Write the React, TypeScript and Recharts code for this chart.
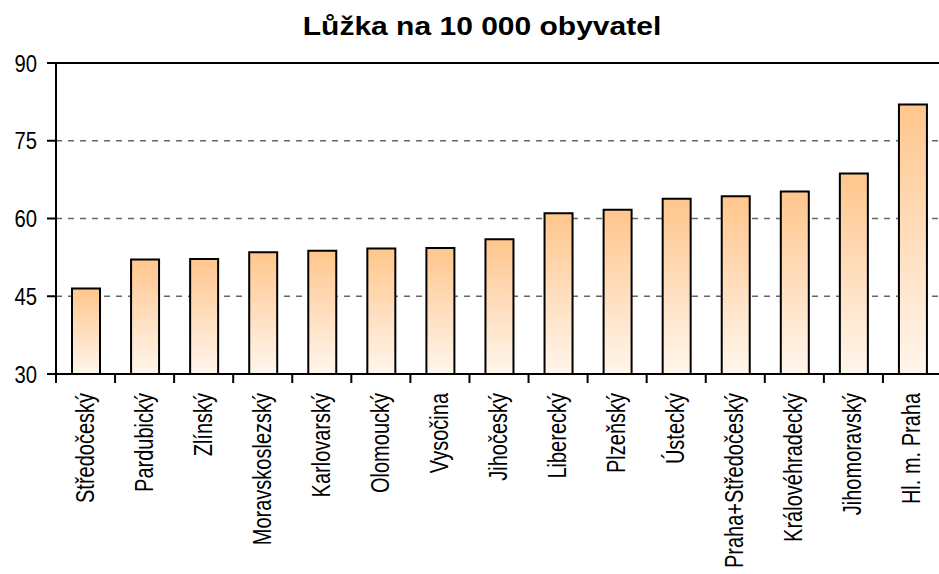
import React from "react";
import { BarChart, Bar, XAxis, YAxis, CartesianGrid, ReferenceLine } from "recharts";

const title = "Lůžka na 10 000 obyvatel";
const regions = [
  "Středočeský",
  "Pardubický",
  "Zlínský",
  "Moravskoslezský",
  "Karlovarský",
  "Olomoucký",
  "Vysočina",
  "Jihočeský",
  "Liberecký",
  "Plzeňský",
  "Ústecký",
  "Praha+Středočeský",
  "Královéhradecký",
  "Jihomoravský",
  "Hl. m. Praha",
];
const beds = [46.5, 52.1, 52.2, 53.5, 53.8, 54.2, 54.3, 56.0, 61.0, 61.7, 63.8, 64.3, 65.2, 68.7, 82.0];
const yTicks = [30, 45, 60, 75, 90];

const data = regions.map((r, i) => ({ region: r, value: beds[i] }));

const W = 942;
const H = 574;
const PLOT_LEFT = 56;
const PLOT_RIGHT = 942;
const PLOT_TOP = 63;
const PLOT_BOTTOM = 374;
const FONT = "'Liberation Sans', Arial, Helvetica, sans-serif";

const XTick = (props: any) => {
  const { x, payload } = props;
  const band = (PLOT_RIGHT - PLOT_LEFT) / regions.length;
  const bx = x - band / 2;
  return (
    <g>
      <line x1={bx} x2={bx} y1={PLOT_BOTTOM} y2={PLOT_BOTTOM + 9} stroke="#000" strokeWidth={2} />
      <text
        transform={`translate(${x},393) rotate(-90) scale(1,1.25)`}
        x={0}
        y={6.4}
        textAnchor="end"
        fontSize={20}
        fontFamily={FONT}
        fill="#000"
      >
        {payload.value}
      </text>
    </g>
  );
};

const YTick = (props: any) => {
  const { y, payload } = props;
  return (
    <text
      transform={`translate(37,${y}) scale(0.88,1)`}
      x={0}
      y={8.5}
      textAnchor="end"
      fontSize={23}
      fontFamily={FONT}
      fill="#000"
    >
      {payload.value}
    </text>
  );
};

export default function App() {
  return (
    <div style={{ position: "absolute", left: 0, top: 0, width: 939, height: H, overflow: "hidden", background: "#fff" }}>
      <BarChart
        width={W}
        height={H}
        data={data}
        margin={{ top: PLOT_TOP, right: W - PLOT_RIGHT, left: 0, bottom: 0 }}
        barSize={28}
      >
        <defs>
          <linearGradient id="barGrad" x1="0" y1="0" x2="0" y2="1">
            <stop offset="0%" stopColor="#FFC68C" />
            <stop offset="55%" stopColor="#FFE0C2" />
            <stop offset="100%" stopColor="#FFF6EC" />
          </linearGradient>
        </defs>
        <CartesianGrid vertical={false} stroke="#666" strokeDasharray="6 6" strokeWidth={1.5} />
        <XAxis
          dataKey="region"
          interval={0}
          height={H - PLOT_BOTTOM}
          tickLine={false}
          axisLine={{ stroke: "#000", strokeWidth: 2 }}
          tick={<XTick />}
        />
        <YAxis
          width={PLOT_LEFT}
          domain={[30, 90]}
          ticks={yTicks}
          interval={0}
          tickSize={9}
          tickLine={{ stroke: "#000", strokeWidth: 2 }}
          axisLine={{ stroke: "#000", strokeWidth: 2 }}
          tick={<YTick />}
        />
        <ReferenceLine y={90} stroke="#000" strokeWidth={2} />
        <Bar dataKey="value" fill="url(#barGrad)" stroke="#000" strokeWidth={2} isAnimationActive={false} />
      </BarChart>
      <svg
        width={939}
        height={50}
        style={{ position: "absolute", left: 0, top: 0, pointerEvents: "none" }}
      >
        <text
          transform="translate(482,35) scale(1.2,1)"
          x={0}
          y={0}
          textAnchor="middle"
          fontSize={25}
          fontWeight="bold"
          fontFamily={FONT}
          fill="#000"
        >
          {title}
        </text>
      </svg>
    </div>
  );
}
